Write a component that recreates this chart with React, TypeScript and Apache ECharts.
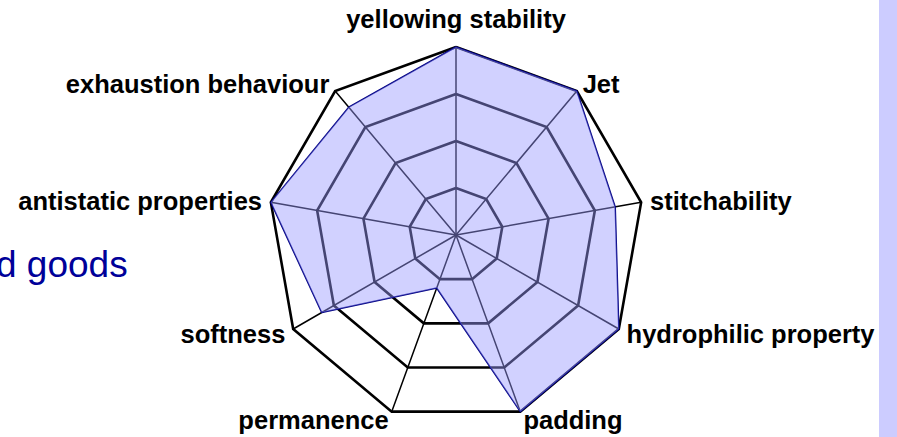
import React, { useEffect, useRef } from "react";
import * as echarts from "echarts";

// Indicators in counter-clockwise order starting from the top
const indicatorNames = [
  "yellowing stability",
  "exhaustion behaviour",
  "antistatic properties",
  "softness",
  "permanence",
  "padding",
  "hydrophilic property",
  "stitchability",
  "Jet",
];
const seriesValues = [4, 3.55, 4, 3.3, 1.2, 4, 4, 3.44, 4];
const axisMax = 4;
const legendFragment = "d goods";

const labelFont = {
  color: "#000000",
  fontWeight: "bold" as const,
  fontSize: 25.5,
  fontFamily: "Liberation Sans, Arial, sans-serif",
};

export default function App() {
  const ref = useRef<HTMLDivElement>(null);
  useEffect(() => {
    if (!ref.current) return;
    const chart = echarts.init(ref.current, undefined, { renderer: "svg" });
    chart.setOption({
      animation: false,
      backgroundColor: "#ffffff",
      radar: {
        center: [456, 235],
        radius: 188,
        startAngle: 90,
        splitNumber: 4,
        shape: "polygon",
        nameGap: 9,
        indicator: indicatorNames.map((n) => ({ name: n, max: axisMax, min: 0 })),
        axisName: {
          ...labelFont,
          formatter: (name: string) =>
            name === indicatorNames[0] ? `{t|${name}}` : name,
          rich: {
            t: { ...labelFont, padding: [0, 0, 6, 0] },
          },
        },
        splitLine: { lineStyle: { color: "#000000", width: 2.6 } },
        splitArea: { show: false },
        axisLine: { lineStyle: { color: "#000000", width: 1.5 } },
        axisTick: { show: false },
        axisLabel: { show: false },
      },
      series: [
        {
          type: "radar",
          symbol: "none",
          lineStyle: { color: "#000080", width: 1.5 },
          areaStyle: { color: "#9999ff", opacity: 0.45 },
          data: [{ value: seriesValues, name: "goods" }],
        },
      ],
      graphic: [
        {
          type: "rect",
          shape: { x: 879, y: 0, width: 18, height: 437 },
          style: { fill: "#ccccff" },
          silent: true,
        },
        {
          type: "text",
          x: -4,
          y: 264,
          style: {
            text: legendFragment,
            fill: "#000099",
            fontSize: 37,
            fontFamily: "Liberation Sans, Arial, sans-serif",
            verticalAlign: "middle",
          },
        },
      ],
    });
    return () => chart.dispose();
  }, []);
  return (
    <div
      ref={ref}
      style={{ position: "fixed", left: 0, top: 0, width: 897, height: 437 }}
    />
  );
}
